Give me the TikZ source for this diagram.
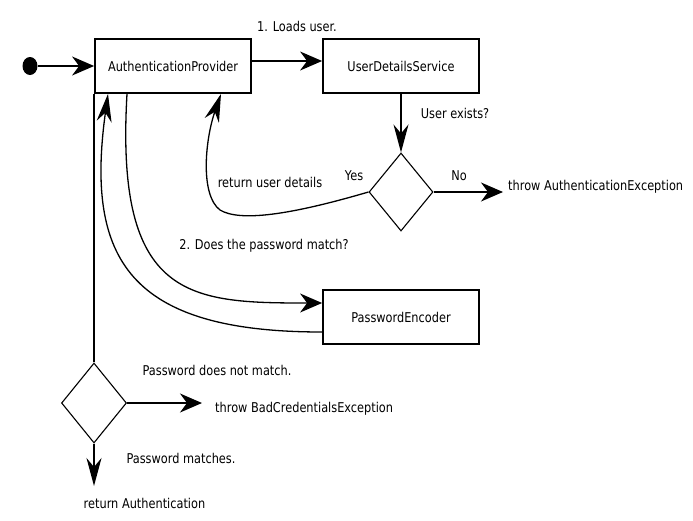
\documentclass[tikz,border=0pt]{standalone}
\usepackage{fontspec}
\setmainfont{DejaVu Sans}[FakeStretch=0.84]
\usetikzlibrary{shapes.geometric,arrows.meta}
\begin{document}
\begin{tikzpicture}[x=1pt,y=-1pt,
  lbl/.style={font=\fontsize{13.5}{16}\selectfont, inner sep=0pt},
  box/.style={draw, line width=1.8pt, minimum width=156pt, minimum height=54pt, inner sep=0pt, font=\fontsize{13.5}{16}\selectfont},
  dec/.style={draw, diamond, line width=1.1pt, inner sep=0pt},
  conn/.style={line width=1.3pt},
  harrow/.style={conn, -{Stealth[length=22pt, width=19pt, inset=7pt]}},
  varrow/.style={conn, -{Stealth[length=28pt, width=15pt, inset=9pt]}}]
\useasboundingbox (0,0) rectangle (693,520);
\fill[white] (0,0) rectangle (693,520);
% nodes
\node[ellipse, fill=black, minimum width=15pt, minimum height=18pt, inner sep=0pt] (start) at (30,66) {};
\node[box] (ap) at (173,66) {AuthenticationProvider};
\node[box] (uds) at (401,66) {UserDetailsService};
\node[box] (pe) at (401,317) {PasswordEncoder};
\node[dec, minimum width=64pt, minimum height=78pt] (d1) at (401,192) {};
\node[dec, minimum width=65pt, minimum height=80pt] (d2) at (94,403) {};
% labels
\node[lbl, anchor=base] (l1) at (297,31) {1. Loads user.};
\node[lbl, anchor=base] (l2) at (455,118) {User exists?};
\node[lbl, anchor=base] (lyes) at (354,180) {Yes};
\node[lbl, anchor=base] (lno) at (459,180) {No};
\node[lbl, anchor=base] (lret) at (270,187) {return user details};
\node[lbl, anchor=base west] (lexc) at (508,190) {throw AuthenticationException};
\node[lbl, anchor=base] (lpw) at (264,249) {2. Does the password match?};
\node[lbl, anchor=base] (lnm) at (217,375) {Password does not match.};
\node[lbl, anchor=base west] (lbad) at (215,412) {throw BadCredentialsException};
\node[lbl, anchor=base] (lm) at (181,463) {Password matches.};
\node[lbl, anchor=base] (lra) at (144.5,508) {return Authentication};
% free ends
\coordinate (noend) at (503,192);
\coordinate (badend) at (202,403);
\coordinate (okend) at (94,486);
% connectors
\draw[harrow] (start.east) -- (ap.west);
\draw[harrow] ([yshift=5pt]ap.east) -- ([yshift=5pt]uds.west);
\draw[varrow] (uds.south) -- (d1.north);
\draw[harrow] (d1.east) -- (noend);
\draw[varrow] (d1.west) .. controls (290,215) and (240,222) .. (220,210)
  .. controls (200,195) and (205,140) .. ([xshift=48pt]ap.south);
\draw[harrow] ([xshift=-46pt]ap.south) .. controls (115,300) and (190,303) .. ([yshift=14pt]pe.west);
\draw[varrow] ([yshift=-15pt]pe.west) .. controls (130,332) and (85,260) .. ([xshift=-65pt]ap.south);
\draw[conn] (d2.north) -- (d2.north |- ap.south);
\draw[harrow] (d2.east) -- (badend);
\draw[varrow] (d2.south) -- (okend);
\end{tikzpicture}
\end{document}
